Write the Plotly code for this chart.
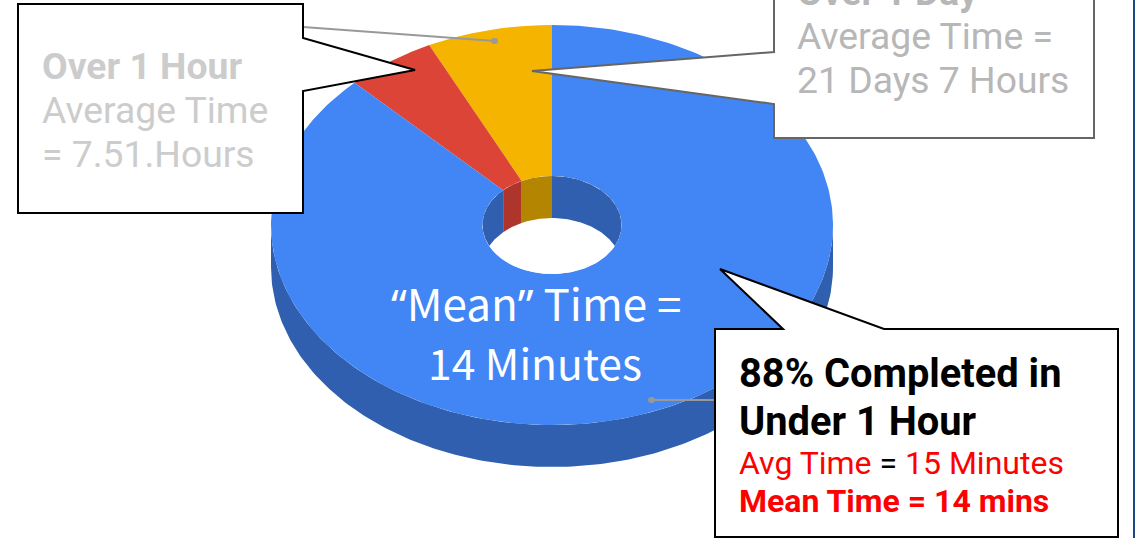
import numpy as np
import plotly.graph_objects as go

# slices, clockwise from 12 o'clock
names = ["Under 1 Hour", "Over 1 Hour", "Over 1 Day"]
shares = [87.6, 5.2, 7.2]
order = [2, 1, 0]  # going anticlockwise from 12 o'clock: yellow, red, then blue
top_colors = ["#4285F4", "#DB4437", "#F4B400"]
wall_colors = ["#2F5FAE", "#AE352C", "#B38500"]

# pie geometry in page pixels
CX, CY = 552, 225
RX, RY = 281, 200
HX, HY = 69.5, 49
DEPTH = 42


def ell(t, rx, ry, dy=0):
    return CX + rx * np.sin(t), CY + dy - ry * np.cos(t)


def fill_trace(x, y, color):
    return go.Scatter(x=x, y=y, mode="lines", fill="toself", fillcolor=color,
                      line=dict(width=0, color=color), hoverinfo="skip", showlegend=False)


def wall_trace(p, q, color):
    # band between the hole edge and the same edge one depth lower
    t = np.linspace(p, q, 80)
    x1, y1 = ell(t, HX, HY)
    s = np.linspace(np.arcsin(np.sin(q)), np.arcsin(np.sin(p)), 80)
    x2, y2 = ell(s, HX, HY, DEPTH)
    return fill_trace(np.r_[x1, x2], np.r_[y1, y2], color)


# slice limits in radians, negative is anticlockwise from the top
ends = np.cumsum([shares[i] for i in order]) / sum(shares) * 2 * np.pi
limits = {}
start = 0
for i, e in zip(order, ends):
    limits[i] = (-e, -start)
    start = e

fig = go.Figure()

# outer side wall
t = np.linspace(np.pi / 2, 3 * np.pi / 2, 200)
x1, y1 = ell(t, RX, RY)
x2, y2 = ell(t[::-1], RX, RY, DEPTH)
fig.add_trace(fill_trace(np.r_[x1, x2], np.r_[y1, y2], wall_colors[0]))

# top faces
for i in order:
    a, b = limits[i]
    t = np.linspace(a, b, 300)
    x1, y1 = ell(t, RX, RY)
    x2, y2 = ell(t[::-1], HX, HY)
    fig.add_trace(fill_trace(np.r_[x1, x2], np.r_[y1, y2], top_colors[i]))

# hole
t = np.linspace(0, 2 * np.pi, 200)
fig.add_trace(fill_trace(*ell(t, HX, HY), "#FFFFFF"))

# inner wall seen through the hole
edge = np.arccos(-DEPTH / 2 / HY)
fig.add_trace(wall_trace(*limits[2], wall_colors[2]))
fig.add_trace(wall_trace(*limits[1], wall_colors[1]))
fig.add_trace(wall_trace(-edge, limits[1][0], wall_colors[0]))
fig.add_trace(wall_trace(0, edge, wall_colors[0]))

GREY = "#999999"
shapes = [
    dict(type="line", x0=303, y0=27, x1=495, y1=41, line=dict(color=GREY, width=2)),
    dict(type="circle", x0=491, y0=38, x1=498, y1=44, fillcolor=GREY, line=dict(width=0)),
    dict(type="line", x0=652, y0=400, x1=716, y1=400, line=dict(color=GREY, width=2)),
    dict(type="circle", x0=648, y0=397, x1=655, y1=403, fillcolor=GREY, line=dict(width=0)),
    # callouts
    dict(type="path", path="M18,4 L303,4 L303,38 L415,70 L303,91 L303,213 L18,213 Z",
         fillcolor="white", line=dict(color="#000000", width=2)),
    dict(type="path", path="M774,-6 L1094,-6 L1094,138 L774,138 L774,104 L532,71 L774,52 Z",
         fillcolor="white", line=dict(color="#666666", width=2)),
    dict(type="path", path="M715,329 L783,329 L720,269 L884,329 L1118,329 L1118,537 L715,537 Z",
         fillcolor="white", line=dict(color="#000000", width=2)),
    # page edge at the far right
    dict(type="line", x0=1134, y0=0, x1=1134, y1=538, line=dict(color="#1C4587", width=2)),
]


def label(x, y, text, size, color, family="Roboto", anchor="left", yanchor="middle"):
    return dict(x=x, y=y, text=text, showarrow=False, xanchor=anchor, yanchor=yanchor,
                font=dict(family=family, size=size, color=color), align=anchor)


LIGHT = "#CCCCCC"
MID = "#B7B7B7"
RED = "#FF0000"
QUOTE = "<span style='font-family:Noto Sans'>%s</span>"
annotations = [
    label(39.5, 66, "<b>Over 1 Hour</b>", 37.3, LIGHT),
    label(39.5, 110, "Average Time", 37.3, LIGHT),
    label(39.5, 154, "= 7.51.Hours", 37.3, LIGHT),
    label(794.5, 16, "<b>Over 1 Day</b>", 37.3, MID, yanchor="bottom"),
    label(794.5, 35.5, "Average Time =", 37.3, MID),
    label(794.5, 79.5, "21 Days 7 Hours", 37.3, MID),
    label(535.5, 302, QUOTE % "“" + "Mean" + QUOTE % "”" + " Time =", 44, "#FFFFFF",
          family="Noto Sans CJK SC", anchor="center"),
    label(535, 361, "14 Minutes", 42.6, "#FFFFFF", family="Noto Sans CJK SC", anchor="center"),
    label(736.5, 373, "<b>88% Completed in</b>", 39.8, "#000000"),
    label(736.5, 421, "<b>Under 1 Hour</b>", 39.8, "#000000"),
    label(736.5, 463, "Avg Time <span style='color:#000000'>=</span> 15 Minutes", 32, RED),
    label(736.5, 501, "<b>Mean Time = 14 mins</b>", 32, RED),
]

fig.update_layout(
    width=1138, height=538, margin=dict(l=0, r=0, t=0, b=0),
    paper_bgcolor="white", plot_bgcolor="white", showlegend=False,
    xaxis=dict(range=[0, 1138], visible=False, fixedrange=True),
    yaxis=dict(range=[538, 0], visible=False, fixedrange=True),
    shapes=shapes, annotations=annotations,
)
fig.write_html("out.html", config=dict(displayModeBar=False),
               post_script="document.body.style.margin='0';document.body.style.overflow='hidden';")
